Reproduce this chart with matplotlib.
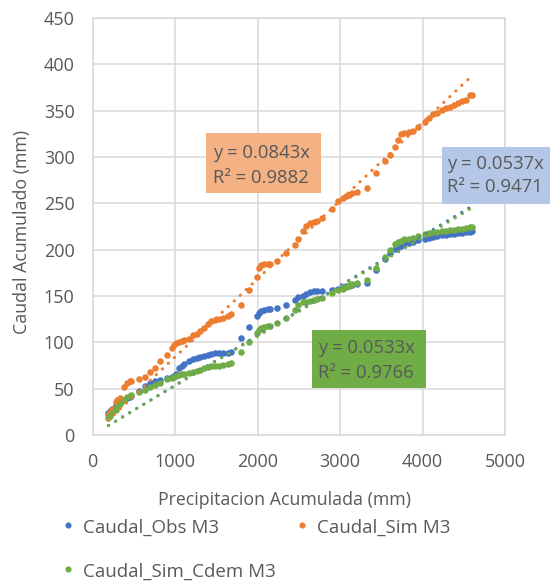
import matplotlib
matplotlib.use("Agg")
import matplotlib.pyplot as plt
import numpy as np
from matplotlib.lines import Line2D
from matplotlib.patches import Rectangle

# ---------------- data ----------------
precip = [190, 210, 230, 280, 300, 330, 380, 420, 450, 470, 560, 640, 700, 760, 820, 900,
          960, 990, 1010, 1050, 1080, 1110, 1170, 1220, 1260, 1300, 1350, 1400, 1440, 1480,
          1530, 1580, 1640, 1680, 1800, 1900, 1990, 2020, 2040, 2080, 2120, 2150, 2230, 2350,
          2450, 2490, 2550, 2590, 2630, 2680, 2720, 2780, 2900, 2980, 3030, 3070, 3110, 3150,
          3200, 3330, 3440, 3540, 3600, 3660, 3700, 3740, 3780, 3830, 3880, 3950, 4030, 4080,
          4130, 4180, 4230, 4280, 4330, 4380, 4430, 4480, 4530, 4580, 4600]

caudal_obs = [24, 26, 28, 32, 33, 35, 38, 40, 41, 42, 48, 53, 56, 58, 59, 61,
              63, 64, 66, 72, 75, 77, 80, 82, 83, 84, 85, 86, 87, 88,
              88, 88, 89, 90, 105, 117, 128, 132, 134, 135, 136, 136, 137, 140,
              146, 149, 150, 152, 154, 155, 155, 155, 156, 158, 160, 161, 161, 162,
              163, 164, 178, 190, 196, 201, 203, 204, 206, 207, 208, 210, 212, 213,
              214, 215, 216, 216, 217, 217, 218, 218, 219, 219, 220]

caudal_sim = [22, 25, 28, 36, 38, 40, 52, 56, 58, 58, 60, 63, 68, 72, 80, 86,
              94, 97, 99, 100, 101, 102, 104, 108, 109, 112, 115, 120, 123, 124,
              125, 126, 128, 131, 140, 157, 170, 180, 183, 184, 185, 184, 188, 196,
              205, 212, 220, 226, 229, 230, 231, 234, 244, 252, 256, 258, 259, 261,
              262, 267, 283, 296, 302, 311, 318, 325, 326, 327, 328, 332, 338, 342,
              346, 348, 351, 353, 354, 356, 358, 360, 362, 367, 367]

caudal_cdem = [18, 21, 24, 27, 30, 33, 38, 41, 42, 43, 46, 49, 52, 54, 56, 60,
               62, 63, 64, 65, 66, 66, 67, 68, 69, 70, 72, 73, 74, 75,
               75, 76, 77, 78, 90, 100, 110, 113, 116, 117, 118, 118, 121, 126,
               135, 140, 143, 144, 145, 146, 147, 148, 153, 156, 158, 160, 161, 163,
               164, 167, 180, 192, 200, 206, 208, 209, 211, 212, 213, 215, 217, 218,
               219, 219, 220, 220, 221, 221, 222, 222, 223, 224, 225]

series_names = ["Caudal_Obs M3", "Caudal_Sim M3", "Caudal_Sim_Cdem M3"]
slopes = [0.0537, 0.0843, 0.0533]
r2_values = [0.9471, 0.9882, 0.9766]

x_ticks = [0, 1000, 2000, 3000, 4000, 5000]
y_ticks = [0, 50, 100, 150, 200, 250, 300, 350, 400, 450]

# ---------------- style ----------------
W, H = 550, 581
colors = ["#4472C4", "#ED7D31", "#70AD47"]
box_colors = ["#B4C7E7", "#F4B183", "#70AD47"]
text_color = "#595959"
grid_color = "#D9D9D9"
plt.rcParams['font.family'] = ['Open Sans', 'DejaVu Sans']

fig = plt.figure(figsize=(W / 100, H / 100), dpi=100)
fig.patch.set_facecolor("white")


def fx(px):
    return px / W


def fy(py):
    return 1 - py / H


ax_l, ax_r, ax_t, ax_b = 92.7, 505, 18, 435
ax = fig.add_axes([fx(ax_l), fy(ax_b), fx(ax_r - ax_l), (ax_b - ax_t) / H])

ax.set_xlim(0, 5000)
ax.set_ylim(0, 450)
ax.set_xticks(x_ticks)
ax.set_yticks(y_ticks)
ax.grid(True, color=grid_color, linewidth=1.1)
ax.set_axisbelow(True)
for s in ax.spines.values():
    s.set_color(grid_color)
    s.set_linewidth(1.1)
ax.tick_params(axis='both', length=0, labelsize=13, labelcolor=text_color)
ax.tick_params(axis='y', pad=13)
ax.tick_params(axis='x', pad=13)

data_series = [caudal_obs, caudal_sim, caudal_cdem]
x = np.array(precip, dtype=float)
for ys, c in zip(data_series, colors):
    ax.scatter(x, ys, s=22, color=c, linewidths=0, zorder=3)

xr = np.array([min(precip), max(precip)], dtype=float)
for m, c in zip(slopes, colors):
    ax.plot(xr, m * xr, color=c, linewidth=2.2, linestyle=(0, (0.1, 2.6)),
            dash_capstyle='round', zorder=4)

# axis titles
fig.text(fx(284), fy(500), "Precipitacion Acumulada (mm)", ha='center', va='center',
         fontsize=12.8, color=text_color)
fig.text(fx(22), fy(232), "Caudal Acumulado (mm)", ha='center', va='center',
         rotation=90, fontsize=12.8, color=text_color)

# trendline label boxes (pixel rectangles: left, top, right, bottom ; text x, line ys)
boxes = [
    (441.7, 146.7, 560, 204.3, 447, 164, 187),
    (206, 133, 321, 193, 213, 153, 178),
    (311.7, 330, 425.7, 388, 318, 348, 372.7),
]
for (l, t, r, b, tx, y1, y2), bc, m, r2 in zip(boxes, box_colors, slopes, r2_values):
    fig.add_artist(Rectangle((fx(l), fy(b)), fx(r - l), (b - t) / H,
                             transform=fig.transFigure, facecolor=bc, edgecolor='none',
                             zorder=5))
    fig.text(fx(tx), fy(y1), f"y = {m:.4f}x", ha='left', va='center', fontsize=13.3,
             color=text_color, zorder=6)
    fig.text(fx(tx), fy(y2), f"R\u00b2 = {r2:.4f}", ha='left', va='center', fontsize=13.3,
             color=text_color, zorder=6)

# legend
legend_pos = [(68, 528), (302, 528), (68, 572)]
for (lx, ly), c, name in zip(legend_pos, colors, series_names):
    fig.add_artist(Line2D([fx(lx)], [fy(ly - 3)], marker='o', markersize=3.4, color=c,
                          linestyle='none', transform=fig.transFigure))
    fig.text(fx(lx + 15), fy(ly), name, ha='left', va='center', fontsize=13.5,
             color=text_color)

fig.savefig("out.png", dpi=100)
